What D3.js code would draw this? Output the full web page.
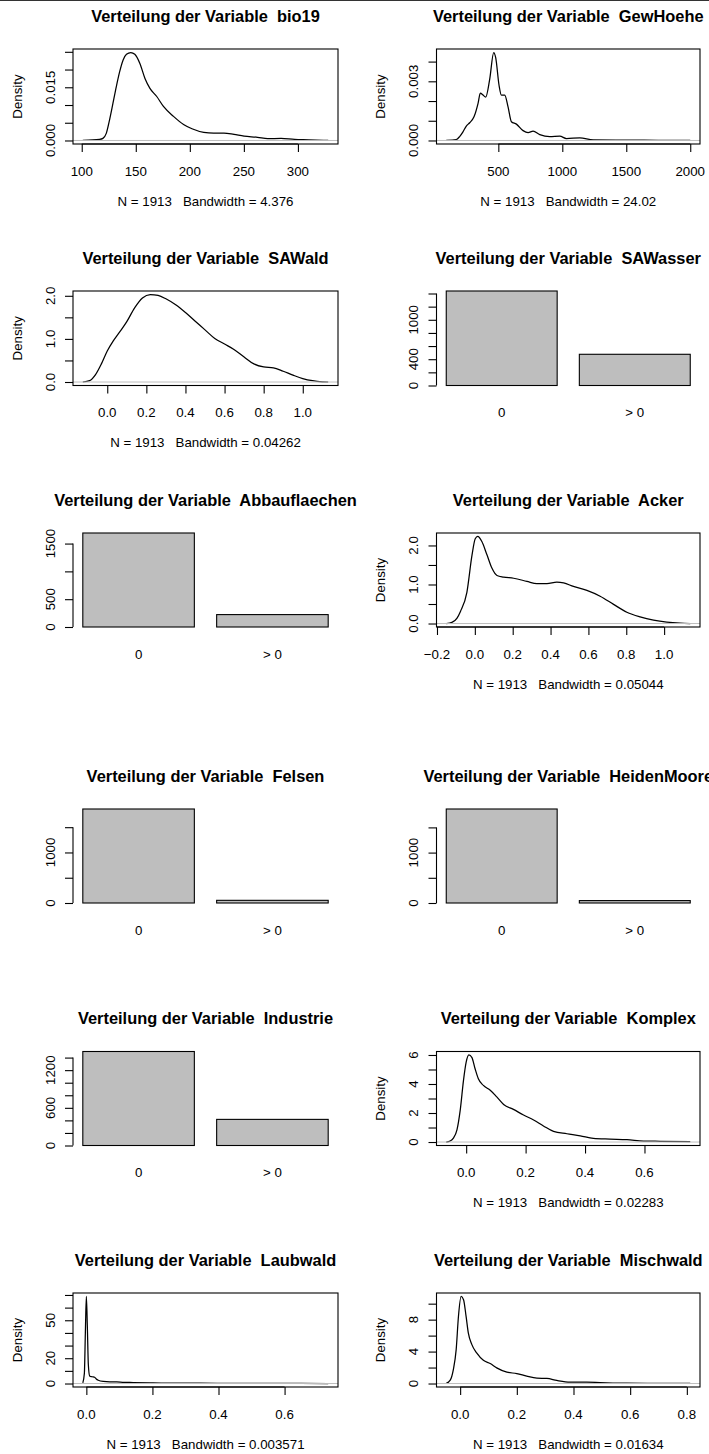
<!DOCTYPE html>
<html>
<head>
<meta charset="utf-8">
<script src="https://cdn.jsdelivr.net/npm/d3@7"></script>
<style>
  html, body { margin: 0; padding: 0; background: #fff; }
  svg { display: block; font-family: "Liberation Sans", Arial, Helvetica, sans-serif; }
  text { white-space: pre; }
</style>
</head>
<body>
<svg id="chart" width="709" height="1454"></svg>
<script>
// ---- sample size ----
const sampleN = 1913;

// ---- category labels for the 0 / >0 bar charts ----
const barCategories = ["0", "> 0"];

// ---- bio19 kernel density ----
const bio19X = [101, 116.5, 119.6, 122.7, 125.8, 128.9, 132, 135.1, 138.3, 141.4, 145.4, 149.1, 153.8, 158.5, 163.1, 169.4, 175.6, 184.9, 194.2, 202, 212.9, 222, 231.6, 240.9, 250.2, 262.7, 272, 284.4, 296.9, 310, 328];
const bio19Y = [0.0000, 0.0003, 0.0006, 0.0020, 0.0059, 0.0105, 0.0152, 0.0194, 0.0227, 0.0243, 0.0248, 0.0243, 0.0217, 0.0175, 0.0147, 0.0124, 0.0096, 0.0068, 0.0045, 0.0033, 0.0023, 0.0021, 0.0021, 0.0017, 0.0012, 0.0009, 0.0005, 0.0006, 0.0003, 0.0002, 0.0000];
const bio19XTicks = [100, 150, 200, 250, 300];
const bio19XLabels = ["100", "150", "200", "250", "300"];
const bio19YTicks = [0, 0.005, 0.010, 0.015, 0.020, 0.025];
const bio19YLabels = ["0.000", "", "", "0.015", "", ""];

// ---- GewHoehe kernel density ----
const gewX = [93, 171.5, 197.6, 223.7, 249.8, 275.9, 309.8, 341.1, 359.4, 380.3, 401.1, 432.4, 463.8, 479.4, 505.5, 523.8, 549.9, 576, 602.1, 641.2, 693.4, 732.6, 771.7, 823.9, 902.2, 980.5, 1032.7, 1137.1, 1241.5, 1502.5, 1750, 2000];
const gewY = [0, 0.00005, 0.0002, 0.00044, 0.00073, 0.0009, 0.0012, 0.00187, 0.0024, 0.0023, 0.0022, 0.0031, 0.00446, 0.0042, 0.0028, 0.0023, 0.0023, 0.0017, 0.00095, 0.00083, 0.0005, 0.0004, 0.00047, 0.0003, 0.0002, 0.00022, 0.0001, 0.00013, 0.00003, 0.00002, 0.00001, 0];
const gewXTicks = [500, 1000, 1500, 2000];
const gewXLabels = ["500", "1000", "1500", "2000"];
const gewYTicks = [0, 0.001, 0.002, 0.003, 0.004];
const gewYLabels = ["0.000", "", "", "0.003", ""];

// ---- SAWald kernel density ----
const sawaldX = [-0.125, -0.09, -0.06, -0.03, 0.0, 0.03, 0.06, 0.1, 0.14, 0.18, 0.22, 0.26, 0.3, 0.35, 0.4, 0.45, 0.5, 0.55, 0.6, 0.65, 0.7, 0.75, 0.8, 0.85, 0.9, 0.95, 1.0, 1.05, 1.1, 1.13];
const sawaldY = [0, 0.03, 0.17, 0.42, 0.72, 0.95, 1.14, 1.40, 1.72, 1.95, 2.03, 2.01, 1.93, 1.79, 1.61, 1.41, 1.21, 1.01, 0.88, 0.75, 0.58, 0.42, 0.35, 0.33, 0.25, 0.16, 0.08, 0.03, 0.005, 0];
const unitXTicks = [0, 0.2, 0.4, 0.6, 0.8, 1.0];
const unitXLabels = ["0.0", "0.2", "0.4", "0.6", "0.8", "1.0"];
const twoYTicks = [0, 0.5, 1.0, 1.5, 2.0];
const twoYLabels = ["0.0", "", "1.0", "", "2.0"];

// ---- SAWasser counts ----
const sawasserCounts = [1438, 475];
const sawasserTicks = [0, 200, 400, 600, 800, 1000, 1200, 1400];
const sawasserLabels = ["0", "", "400", "", "", "1000", "", ""];

// ---- Abbauflaechen counts ----
const abbauCounts = [1690, 223];
const abbauTicks = [0, 500, 1000, 1500];
const abbauLabels = ["0", "500", "", "1500"];

// ---- Acker kernel density ----
const ackerX = [-0.151, -0.121, -0.094, -0.076, -0.042, -0.015, 0.002, 0.015, 0.037, 0.064, 0.09, 0.117, 0.152, 0.205, 0.275, 0.328, 0.381, 0.433, 0.469, 0.521, 0.592, 0.662, 0.733, 0.803, 0.873, 0.944, 1.014, 1.085, 1.138];
const ackerY = [0, 0.03, 0.14, 0.31, 0.80, 1.75, 2.17, 2.23, 2.10, 1.76, 1.42, 1.23, 1.19, 1.16, 1.08, 1.02, 1.02, 1.06, 1.04, 0.95, 0.85, 0.70, 0.49, 0.29, 0.17, 0.085, 0.034, 0.008, 0];
const ackerXTicks = [-0.2, 0, 0.2, 0.4, 0.6, 0.8, 1.0];
const ackerXLabels = ["\u22120.2", "0.0", "0.2", "0.4", "0.6", "0.8", "1.0"];

// ---- Felsen / HeidenMoore counts ----
const felsenCounts = [1860, 53];
const heidenCounts = [1865, 48];
const rareTicks = [0, 500, 1000, 1500];
const rareLabels = ["0", "", "1000", ""];

// ---- Industrie counts ----
const industrieCounts = [1497, 416];
const industrieTicks = [0, 200, 400, 600, 800, 1000, 1200, 1400];
const industrieLabels = ["0", "", "", "600", "", "", "1200", ""];

// ---- Komplex kernel density ----
const komplexX = [-0.067, -0.054, -0.043, -0.031, -0.02, -0.009, 0.0, 0.009, 0.019, 0.03, 0.041, 0.058, 0.081, 0.103, 0.126, 0.159, 0.193, 0.227, 0.26, 0.294, 0.339, 0.384, 0.428, 0.484, 0.541, 0.597, 0.653, 0.754];
const komplexY = [0, 0.07, 0.27, 0.84, 2.2, 4.25, 5.5, 6.0, 5.84, 5.05, 4.36, 3.9, 3.57, 3.11, 2.59, 2.25, 1.86, 1.52, 1.11, 0.73, 0.57, 0.43, 0.25, 0.2, 0.16, 0.07, 0.05, 0.02];
const komplexXTicks = [0, 0.2, 0.4, 0.6];
const komplexXLabels = ["0.0", "0.2", "0.4", "0.6"];
const komplexYTicks = [0, 1, 2, 3, 4, 5, 6];
const komplexYLabels = ["0", "", "2", "", "4", "", "6"];

// ---- Laubwald kernel density ----
const laubX = [-0.0107, -0.006, -0.003, 0.0, 0.003, 0.006, 0.01, 0.015, 0.02, 0.025, 0.03, 0.036, 0.051, 0.071, 0.092, 0.11, 0.142, 0.193, 0.244, 0.346, 0.447, 0.549, 0.65, 0.732];
const laubY = [0.5, 8, 40, 68.8, 45, 15, 6, 5.4, 5.3, 5.0, 3.6, 2.6, 1.6, 1.3, 1.3, 1.0, 0.8, 0.5, 0.3, 0.25, 0.15, 0.08, 0.03, 0];
const laubXTicks = [0, 0.2, 0.4, 0.6];
const laubXLabels = ["0.0", "0.2", "0.4", "0.6"];
const laubYTicks = [0, 10, 20, 30, 40, 50, 60, 70];
const laubYLabels = ["0", "", "20", "", "", "50", "", ""];

// ---- Mischwald kernel density ----
const mischX = [-0.049, -0.035, -0.024, -0.014, -0.006, 0.0035, 0.012, 0.021, 0.029, 0.041, 0.059, 0.082, 0.106, 0.129, 0.165, 0.2, 0.235, 0.271, 0.306, 0.341, 0.388, 0.447, 0.494, 0.588, 0.7, 0.812];
const mischY = [0.02, 0.42, 1.75, 4.25, 8.4, 10.9, 10.5, 8.4, 6.3, 4.9, 3.8, 2.9, 2.5, 1.96, 1.42, 1.25, 0.92, 0.67, 0.63, 0.38, 0.17, 0.17, 0.12, 0.04, 0.03, 0.01];
const mischXTicks = [0, 0.2, 0.4, 0.6, 0.8];
const mischXLabels = ["0.0", "0.2", "0.4", "0.6", "0.8"];
const mischYTicks = [0, 2, 4, 6, 8, 10];
const mischYLabels = ["0", "", "4", "", "8", ""];

// ---- panel list (variable, kind, data) ----
const panels = [
  { name: "bio19", kind: "density", x: bio19X, y: bio19Y, bw: "4.376", xt: bio19XTicks, xl: bio19XLabels, yt: bio19YTicks, yl: bio19YLabels },
  { name: "GewHoehe", kind: "density", x: gewX, y: gewY, bw: "24.02", xt: gewXTicks, xl: gewXLabels, yt: gewYTicks, yl: gewYLabels },
  { name: "SAWald", kind: "density", x: sawaldX, y: sawaldY, bw: "0.04262", xt: unitXTicks, xl: unitXLabels, yt: twoYTicks, yl: twoYLabels },
  { name: "SAWasser", kind: "bar", counts: sawasserCounts, yt: sawasserTicks, yl: sawasserLabels },
  { name: "Abbauflaechen", kind: "bar", counts: abbauCounts, yt: abbauTicks, yl: abbauLabels },
  { name: "Acker", kind: "density", x: ackerX, y: ackerY, bw: "0.05044", xt: ackerXTicks, xl: ackerXLabels, yt: twoYTicks, yl: twoYLabels },
  { name: "Felsen", kind: "bar", counts: felsenCounts, yt: rareTicks, yl: rareLabels },
  { name: "HeidenMoore", kind: "bar", counts: heidenCounts, yt: rareTicks, yl: rareLabels },
  { name: "Industrie", kind: "bar", counts: industrieCounts, yt: industrieTicks, yl: industrieLabels },
  { name: "Komplex", kind: "density", x: komplexX, y: komplexY, bw: "0.02283", xt: komplexXTicks, xl: komplexXLabels, yt: komplexYTicks, yl: komplexYLabels },
  { name: "Laubwald", kind: "density", x: laubX, y: laubY, bw: "0.003571", xt: laubXTicks, xl: laubXLabels, yt: laubYTicks, yl: laubYLabels },
  { name: "Mischwald", kind: "density", x: mischX, y: mischY, bw: "0.01634", xt: mischXTicks, xl: mischXLabels, yt: mischYTicks, yl: mischYLabels }
];

// ---- page layout: two columns, six rows of plot regions ----
const columns = [{ x0: 73, x1: 338 }, { x0: 436.5, x1: 700 }];
const rows = [
  { top: 49, bottom: 144 },
  { top: 291, bottom: 385.5 },
  { top: 533, bottom: 627 },
  { top: 809, bottom: 903 },
  { top: 1051.5, bottom: 1145.5 },
  { top: 1293, bottom: 1387 }
];

const FS = 13.3;         // axis text size
const TITLE_FS = 16.4;   // title size
const TICK = 8;          // tick length
const GRAY = "#bebebe";

const svg = d3.select("#chart");

// thin rule along the top edge of the sheet
svg.append("line").attr("x1", 0).attr("x2", 709).attr("y1", 0.5).attr("y2", 0.5)
  .attr("stroke", "#333").attr("stroke-width", 1.2);

function drawTitle(g, cx, top, name) {
  g.append("text")
    .attr("x", cx).attr("y", top - 33).attr("dy", "0.35em")
    .attr("text-anchor", "middle")
    .attr("font-size", TITLE_FS).attr("font-weight", "bold")
    .text("Verteilung der Variable  " + name);
}

function drawYAxis(g, y, x0, ticks, labels, withLine) {
  const axis = d3.axisLeft(y).tickValues(ticks).tickSize(TICK).tickFormat("");
  const ag = g.append("g").attr("transform", `translate(${x0},0)`).call(axis);
  ag.select(".domain").remove();
  ag.selectAll(".tick line").attr("stroke", "#000").attr("stroke-width", 1.1);
  if (withLine) {
    g.append("line").attr("x1", x0).attr("x2", x0)
      .attr("y1", y(ticks[0])).attr("y2", y(ticks[ticks.length - 1]))
      .attr("stroke", "#000").attr("stroke-width", 1.1);
  }
  ticks.forEach((t, i) => {
    if (!labels[i]) return;
    g.append("text")
      .attr("transform", `translate(${x0 - 23},${y(t)}) rotate(-90)`)
      .attr("dy", "0.35em").attr("text-anchor", "middle")
      .attr("font-size", FS).attr("fill", "#000")
      .text(labels[i]);
  });
}

function drawDensity(p, c, r) {
  const g = svg.append("g");
  const { x0, x1 } = c, { top, bottom } = r;
  const xr = d3.extent(p.x), ymax = d3.max(p.y);
  const xpad = (xr[1] - xr[0]) * 0.04, ypad = ymax * 0.04;
  const x = d3.scaleLinear().domain([xr[0] - xpad, xr[1] + xpad]).range([x0, x1]);
  const y = d3.scaleLinear().domain([-ypad, ymax + ypad]).range([bottom, top]);

  const pts = p.x.map((v, i) => [v, p.y[i]]);
  g.append("path").datum(pts)
    .attr("d", d3.line().x(d => x(d[0])).y(d => y(d[1])).curve(d3.curveMonotoneX))
    .attr("fill", "none").attr("stroke", "#000").attr("stroke-width", 1.25)
    .attr("stroke-linejoin", "round");

  // zero line over the curve
  g.append("line").attr("x1", x0).attr("x2", x1).attr("y1", y(0)).attr("y2", y(0))
    .attr("stroke", GRAY).attr("stroke-width", 1);

  g.append("rect").attr("x", x0).attr("y", top).attr("width", x1 - x0).attr("height", bottom - top)
    .attr("fill", "none").attr("stroke", "#000").attr("stroke-width", 1.1);

  // x axis
  const xa = d3.axisBottom(x).tickValues(p.xt).tickSize(TICK).tickFormat("");
  const xg = g.append("g").attr("transform", `translate(0,${bottom})`).call(xa);
  xg.select(".domain").remove();
  xg.selectAll(".tick line").attr("stroke", "#000").attr("stroke-width", 1.1);
  g.append("line").attr("x1", x(p.xt[0])).attr("x2", x(p.xt[p.xt.length - 1]))
    .attr("y1", bottom).attr("y2", bottom).attr("stroke", "#000").attr("stroke-width", 1.1);
  p.xt.forEach((t, i) => {
    g.append("text").attr("x", x(t)).attr("y", bottom + 27).attr("dy", "0.35em")
      .attr("text-anchor", "middle").attr("font-size", FS).text(p.xl[i]);
  });

  drawYAxis(g, y, x0, p.yt, p.yl, false);

  const cx = (x0 + x1) / 2;
  g.append("text").attr("x", cx).attr("y", bottom + 57).attr("dy", "0.35em")
    .attr("text-anchor", "middle").attr("font-size", FS)
    .text(`N = ${sampleN}   Bandwidth = ${p.bw}`);
  g.append("text")
    .attr("transform", `translate(${x0 - 56},${(top + bottom) / 2}) rotate(-90)`)
    .attr("dy", "0.35em").attr("text-anchor", "middle").attr("font-size", FS)
    .text("Density");
  drawTitle(g, cx, top, p.name);
}

function drawBars(p, c, r) {
  const g = svg.append("g");
  const { x0, x1 } = c, { top, bottom } = r;
  const x = d3.scaleBand().domain(barCategories).range([x0, x1])
    .paddingInner(1 / 6).paddingOuter(0.0733);
  const y = d3.scaleLinear().domain([0, d3.max(p.counts)]).range([bottom, top]);

  g.selectAll("rect.bar").data(p.counts).join("rect")
    .attr("class", "bar")
    .attr("x", (d, i) => x(barCategories[i]))
    .attr("width", x.bandwidth())
    .attr("y", d => y(d))
    .attr("height", d => y(0) - y(d))
    .attr("fill", GRAY).attr("stroke", "#000").attr("stroke-width", 1.1);

  barCategories.forEach(cat => {
    g.append("text").attr("x", x(cat) + x.bandwidth() / 2).attr("y", bottom + 27).attr("dy", "0.35em")
      .attr("text-anchor", "middle").attr("font-size", FS).text(cat);
  });

  drawYAxis(g, y, x0, p.yt, p.yl, true);
  drawTitle(g, (x0 + x1) / 2, top, p.name);
}

panels.forEach((p, i) => {
  const c = columns[i % 2], r = rows[Math.floor(i / 2)];
  if (p.kind === "density") drawDensity(p, c, r);
  else drawBars(p, c, r);
});
</script>
</body>
</html>
